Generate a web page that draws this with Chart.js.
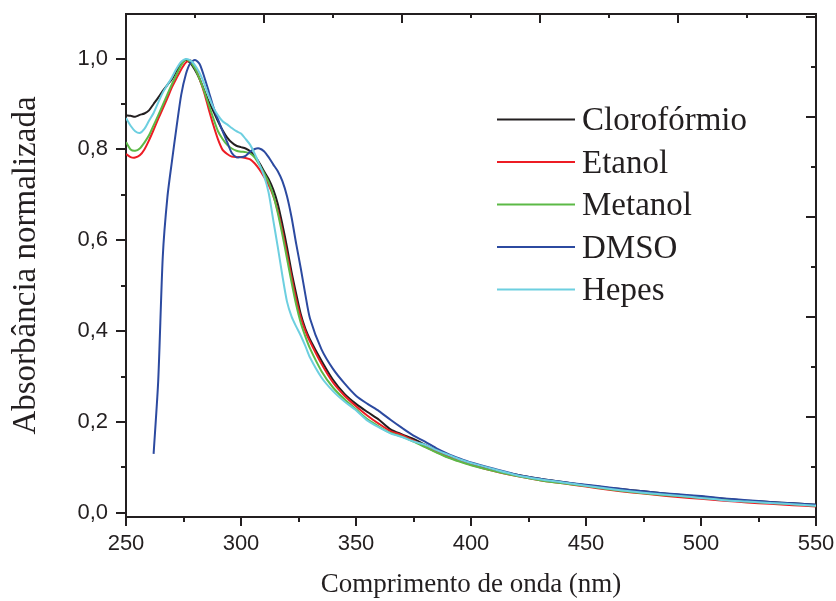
<!DOCTYPE html>
<html><head><meta charset="utf-8">
<script src="https://cdn.jsdelivr.net/npm/chart.js@4"></script>
<style>html,body{margin:0;padding:0;background:#fff}canvas{display:block}</style>
</head><body>
<canvas id="c" width="836" height="601"></canvas>
<script>
// ---- data ----
const wavelengths = [250,252,254,256,258,260,262,264,266,268,270,272,274,276,278,280,282,284,286,288,290,292,294,296,298,300,302,304,306,308,310,312,314,316,318,320,322,324,326,328,330,
  335,340,345,350,355,360,365,370,375,380,385,390,395,400,
  410,420,430,440,450,460,470,480,490,500,510,520,530,540,550];

const cloroformio = [0.875,0.874,0.872,0.876,0.879,0.886,0.900,0.914,0.929,0.942,0.955,0.973,0.988,0.997,0.990,0.975,0.955,0.930,0.905,0.884,0.862,0.842,0.826,0.815,0.808,0.805,0.802,0.796,0.785,0.770,0.752,0.735,0.712,0.680,0.635,0.585,0.530,0.482,0.437,0.405,0.382,
  0.335,0.293,0.262,0.240,0.222,0.205,0.184,0.173,0.163,0.150,0.138,0.127,0.118,0.109,
  0.095,0.084,0.075,0.068,0.061,0.055,0.050,0.045,0.040,0.036,0.031,0.027,0.024,0.021,0.018];

const etanol = [0.790,0.783,0.782,0.787,0.800,0.820,0.843,0.867,0.890,0.913,0.937,0.957,0.976,0.991,0.996,0.981,0.955,0.925,0.888,0.853,0.822,0.799,0.790,0.784,0.783,0.783,0.781,0.778,0.769,0.756,0.740,0.722,0.698,0.665,0.620,0.570,0.518,0.470,0.430,0.400,0.377,
  0.328,0.287,0.258,0.235,0.214,0.196,0.180,0.171,0.159,0.146,0.134,0.123,0.114,0.106,
  0.092,0.081,0.072,0.065,0.058,0.051,0.045,0.040,0.035,0.031,0.027,0.023,0.020,0.017,0.014];

const metanol = [0.816,0.800,0.797,0.802,0.815,0.831,0.853,0.875,0.898,0.921,0.944,0.965,0.985,0.998,0.993,0.978,0.955,0.928,0.898,0.868,0.840,0.823,0.810,0.802,0.797,0.795,0.794,0.791,0.782,0.766,0.748,0.728,0.700,0.660,0.612,0.560,0.507,0.458,0.418,0.388,0.362,
  0.312,0.276,0.250,0.228,0.206,0.190,0.176,0.168,0.157,0.145,0.133,0.122,0.113,0.105,
  0.092,0.081,0.072,0.065,0.059,0.052,0.046,0.041,0.037,0.033,0.029,0.025,0.022,0.019,0.016];

const dmso = [null,null,null,null,null,null,0.130,0.290,0.565,0.695,0.775,0.850,0.920,0.965,0.990,0.997,0.988,0.960,0.927,0.893,0.866,0.840,0.816,0.792,0.783,0.783,0.786,0.795,0.801,0.802,0.796,0.783,0.767,0.752,0.730,0.697,0.650,0.592,0.538,0.480,0.428,
  0.360,0.317,0.285,0.258,0.240,0.224,0.205,0.187,0.170,0.157,0.142,0.130,0.120,0.111,
  0.097,0.084,0.075,0.068,0.062,0.056,0.050,0.045,0.041,0.037,0.032,0.028,0.024,0.021,0.018];

const hepes = [0.869,0.852,0.840,0.836,0.845,0.863,0.880,0.903,0.925,0.942,0.959,0.978,0.993,0.999,0.996,0.985,0.968,0.945,0.917,0.892,0.875,0.862,0.855,0.847,0.840,0.835,0.823,0.810,0.790,0.767,0.742,0.705,0.645,0.585,0.522,0.465,0.432,0.410,0.390,0.367,0.342,
  0.298,0.268,0.245,0.226,0.203,0.188,0.175,0.167,0.157,0.150,0.138,0.128,0.118,0.110,
  0.096,0.083,0.074,0.067,0.060,0.053,0.047,0.042,0.038,0.033,0.028,0.025,0.022,0.019,0.016];

const seriesLabels = ['Clorofórmio','Etanol','Metanol','DMSO','Hepes'];
const xTickValues = [250,300,350,400,450,500,550];
const xMinorTicks = [275,325,375,425,475,525];
const yTickValues = [0,0.2,0.4,0.6,0.8,1.0];
const yMinorTicks = [0.1,0.3,0.5,0.7,0.9];
const topMajorTicks = [250,310,370,430,490,550];
const topMinorTicks = [280,340,400,460,520];
const rightMajorTicks = [0,0.2,0.4,0.6,0.8,1.0];
const rightMinorTicks = [0.1,0.3,0.5,0.7,0.9];

// ---- styles ----
const AXIS = '#231f20';
const colors = ['#231f20','#ed1c24','#5cb946','#2c4aa0','#6dcfe0'];
const seriesValues = [cloroformio, etanol, metanol, dmso, hepes];

const toPoints = vals => wavelengths.map((w,i) => ({x: w, y: vals[i]}));

const datasets = seriesValues.map((vals, i) => ({
  label: seriesLabels[i],
  data: toPoints(vals),
  borderColor: colors[i],
  backgroundColor: colors[i],
  borderWidth: 2,
  pointRadius: 0,
  tension: 0.25,
  spanGaps: false,
  fill: false,
  order: 5 - i
}));

const tickMarks = {
  id: 'tickMarks',
  afterDraw(chart) {
    const ctx = chart.ctx, a = chart.chartArea, s = chart.scales;
    ctx.save();
    ctx.strokeStyle = AXIS; ctx.lineWidth = 2; ctx.lineCap = 'butt';
    const vl = (px, y0, y1) => { px = Math.round(px); ctx.beginPath(); ctx.moveTo(px, y0); ctx.lineTo(px, y1); ctx.stroke(); };
    const hl = (py, x0, x1) => { py = Math.round(py); ctx.beginPath(); ctx.moveTo(x0, py); ctx.lineTo(x1, py); ctx.stroke(); };
    xTickValues.forEach(t => vl(s.x.getPixelForValue(t), a.bottom, a.bottom + 9));
    xMinorTicks.forEach(t => vl(s.x.getPixelForValue(t), a.bottom, a.bottom + 5));
    topMajorTicks.forEach(t => vl(s.xTop.getPixelForValue(t), a.top, a.top + 9));
    topMinorTicks.forEach(t => vl(s.xTop.getPixelForValue(t), a.top, a.top + 4));
    yTickValues.forEach(t => hl(s.y.getPixelForValue(t), a.left, a.left - 10));
    yMinorTicks.forEach(t => hl(s.y.getPixelForValue(t), a.left, a.left - 5));
    rightMajorTicks.forEach(t => hl(s.yRight.getPixelForValue(t), a.right, a.right - 10));
    rightMinorTicks.forEach(t => hl(s.yRight.getPixelForValue(t), a.right, a.right - 5));
    ctx.restore();
  }
};

const insideLegend = {
  id: 'insideLegend',
  afterDatasetsDraw(chart) {
    const ctx = chart.ctx;
    const x0 = 497, x1 = 575, tx = 582, y0 = 119.5, dy = 42.5;
    ctx.save();
    ctx.font = '33px "Liberation Serif", "DejaVu Serif", serif';
    ctx.textBaseline = 'alphabetic';
    ctx.textAlign = 'left';
    chart.data.datasets.forEach((ds, i) => {
      const y = y0 + i * dy;
      ctx.strokeStyle = ds.borderColor; ctx.lineWidth = 2;
      ctx.beginPath(); ctx.moveTo(x0, y); ctx.lineTo(x1, y); ctx.stroke();
      ctx.fillStyle = AXIS;
      ctx.fillText(ds.label, tx, y + 10.5);
    });
    ctx.restore();
  }
};

const tickFont = {family: '"Liberation Sans", Arial, sans-serif', size: 22};
const fmt = v => Number(v).toFixed(1).replace('.', ',');
const noPad = sc => { sc.paddingTop = 0; sc.paddingBottom = 0; sc.paddingLeft = 0; sc.paddingRight = 0; };

new Chart(document.getElementById('c'), {
  type: 'line',
  data: {datasets},
  plugins: [tickMarks, insideLegend],
  options: {
    responsive: false,
    animation: false,
    layout: {padding: 0},
    plugins: {legend: {display: false}, tooltip: {enabled: false}},
    scales: {
      x: {
        type: 'linear', position: 'bottom', min: 250, max: 550,
        afterBuildTicks: sc => { sc.ticks = xTickValues.map(v => ({value: v})); },
        afterFit: sc => { sc.height = 84; noPad(sc); },
        grid: {display: true, drawOnChartArea: false, drawTicks: false},
        border: {display: true, width: 2, color: AXIS},
        ticks: {font: tickFont, color: AXIS, padding: 14, maxRotation: 0, autoSkip: false, callback: v => String(v)},
        title: {display: true, text: 'Comprimento de onda (nm)', color: AXIS,
          font: {family: '"Liberation Serif", "DejaVu Serif", serif', size: 27}, padding: {top: 0, bottom: 0}}
      },
      xTop: {
        type: 'linear', position: 'top', min: 250, max: 550,
        afterFit: sc => { sc.height = 14; noPad(sc); },
        grid: {display: true, drawOnChartArea: false, drawTicks: false},
        border: {display: true, width: 2, color: AXIS},
        ticks: {display: false}
      },
      y: {
        type: 'linear', position: 'left', min: -0.009, max: 1.098,
        afterBuildTicks: sc => { sc.ticks = yTickValues.map(v => ({value: v})); },
        afterFit: sc => { sc.width = 126; noPad(sc); },
        grid: {display: true, drawOnChartArea: false, drawTicks: false},
        border: {display: true, width: 2, color: AXIS},
        ticks: {font: tickFont, color: AXIS, padding: 18, callback: v => fmt(v)},
        title: {display: true, text: 'Absorbância normalizada', color: AXIS,
          font: {family: '"Liberation Serif", "DejaVu Serif", serif', size: 33}, padding: {top: 7, bottom: 0}}
      },
      yRight: {
        type: 'linear', position: 'right', min: 0, max: 1.006,
        afterFit: sc => { sc.width = 20; noPad(sc); },
        grid: {display: true, drawOnChartArea: false, drawTicks: false},
        border: {display: true, width: 2, color: AXIS},
        ticks: {display: false}
      }
    }
  }
});
</script>
</body></html>
